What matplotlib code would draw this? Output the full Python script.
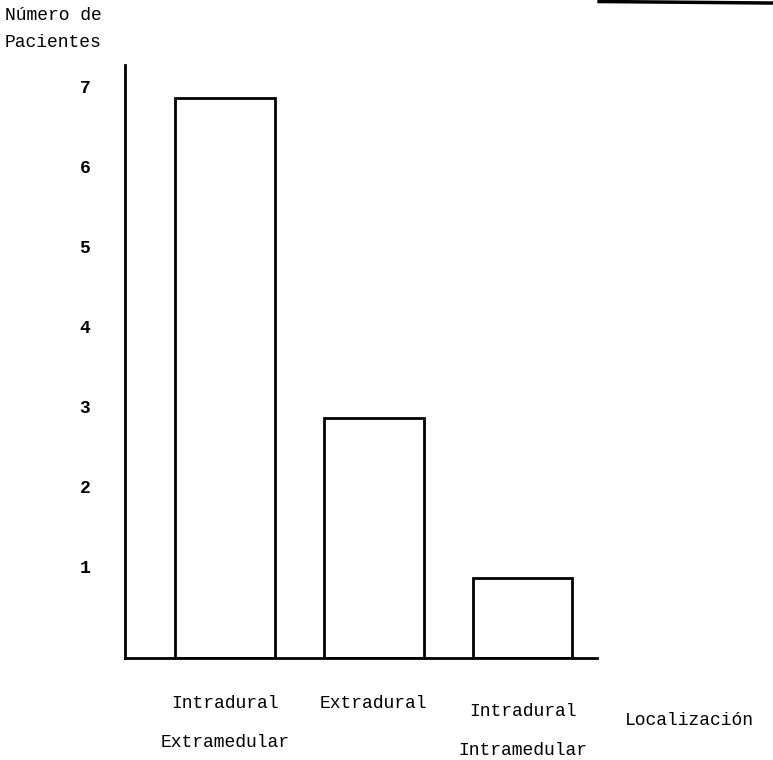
import matplotlib

matplotlib.use("Agg")
import matplotlib.pyplot as plt
from matplotlib.lines import Line2D
from matplotlib.transforms import ScaledTranslation

# Datos
categorias = ["Intradural\n\nExtramedular", "Extradural", "Intradural\n\nIntramedular"]
pacientes = [7, 3, 1]
ticks_y = [1, 2, 3, 4, 5, 6, 7]

FUENTE = "Liberation Mono"

fig = plt.figure(figsize=(7.73, 7.6), dpi=100)
eje = fig.add_axes([0.1617, 0.1342, 0.6106, 0.7803])

x = range(len(categorias))
eje.bar(x, pacientes, width=0.67, facecolor="white", edgecolor="black", linewidth=2.0)

eje.set_xlim(-0.67, 2.5)
eje.set_ylim(0, 7.41)
eje.spines[["top", "right"]].set_visible(False)
eje.spines[["left", "bottom"]].set_linewidth(2.0)

eje.set_yticks(ticks_y)
eje.set_yticklabels([str(v) for v in ticks_y], family=FUENTE, fontsize=13, fontweight="bold")
eje.tick_params(axis="y", length=0, pad=25)
# los números escritos a máquina quedan algo por encima de cada nivel
desplaza = ScaledTranslation(0, 8 / 72, fig.dpi_scale_trans)
for etiqueta in eje.get_yticklabels():
    etiqueta.set_transform(etiqueta.get_transform() + desplaza)
eje.set_xticks([])

# Etiquetas de categoría escritas a máquina bajo el eje
posiciones_texto = [(0.0, -0.46), (1.0, -0.46), (2.0, -0.56)]
for (px, py), etiqueta in zip(posiciones_texto, categorias):
    eje.text(px, py, etiqueta, ha="center", va="top", family=FUENTE, fontsize=13,
             linespacing=1.2)

fig.text(0.892, 0.052, "Localización", ha="center", va="center", family=FUENTE,
         fontsize=13)
fig.text(0.006, 0.991, "Número de\nPacientes", ha="left", va="top", family=FUENTE,
         fontsize=13, linespacing=1.75)

# Marca del borde superior derecho del escaneo
fig.add_artist(Line2D([0.775, 1.0], [0.998, 0.996], color="black", linewidth=2.5,
                      transform=fig.transFigure))

fig.savefig("out.png", dpi=100, facecolor="white")
